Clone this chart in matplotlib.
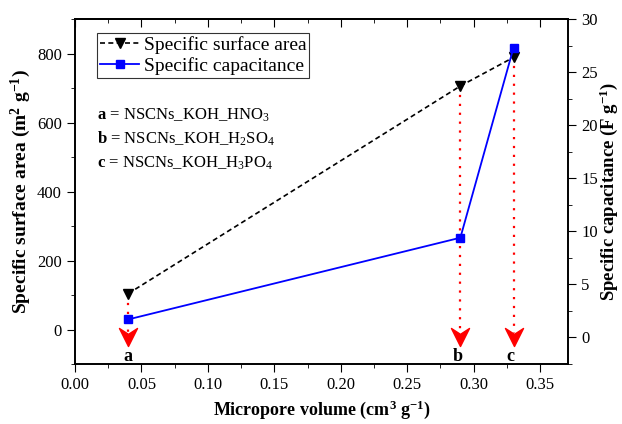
import matplotlib
matplotlib.use('Agg')
import matplotlib.pyplot as plt
import numpy as np
from matplotlib.path import Path
from matplotlib.ticker import MultipleLocator, FormatStrFormatter, NullFormatter

plt.rcParams['font.family'] = ['Liberation Serif', 'DejaVu Serif']
plt.rcParams['mathtext.fontset'] = 'custom'
plt.rcParams['mathtext.rm'] = 'Liberation Serif'
plt.rcParams['mathtext.it'] = 'Liberation Serif:italic'
plt.rcParams['mathtext.bf'] = 'Liberation Serif:bold'

# Data
micropore = [0.04, 0.29, 0.33]
surface_area = [104, 706, 789]
capacitance = [1.7, 9.4, 27.3]
sample_labels = ['a', 'b', 'c']
sample_names = ['NSCNs_KOH_HNO$_3$', 'NSCNs_KOH_H$_2$SO$_4$', 'NSCNs_KOH_H$_3$PO$_4$']

fig = plt.figure(figsize=(6.22, 4.24), dpi=100)
ax = fig.add_axes([0.1206, 0.1415, 0.7926, 0.8135])
ax2 = ax.twinx()

l1, = ax.plot(micropore, surface_area, color='black', linestyle=(0, (3, 2)), linewidth=1.2,
              marker='v', markersize=7, markerfacecolor='black', zorder=3)
l2, = ax2.plot(micropore, capacitance, color='#0000ff', linewidth=1.3,
               marker='s', markersize=6, markerfacecolor='#0000ff', markeredgecolor='#0000ff', zorder=3)

# chevron arrow head marker
chev = Path([(-1, 1), (0, -1), (1, 1), (0, 0.35), (-1, 1)],
            [Path.MOVETO, Path.LINETO, Path.LINETO, Path.LINETO, Path.CLOSEPOLY])

for x, y, lab in zip(micropore, surface_area, sample_labels):
    ax.plot([x, x], [y, -10], color='red', linestyle=(0, (1, 3)), linewidth=1.6, zorder=2)
    ax.plot([x], [-22], marker=chev, markersize=13, color='red', linestyle='none', zorder=2)
    ax.text(x - 0.002 if lab != 'a' else x, -78, lab, ha='center', va='center',
            fontsize=13, fontweight='bold')

ax.set_xlim(0, 0.371)
ax.set_ylim(-100, 900)
ax2.set_ylim(-2.5, 30)

ax.xaxis.set_major_locator(MultipleLocator(0.05))
ax.xaxis.set_minor_locator(MultipleLocator(0.025))
ax.xaxis.set_major_formatter(FormatStrFormatter('%.2f'))
ax.yaxis.set_major_locator(MultipleLocator(200))
ax.yaxis.set_minor_locator(MultipleLocator(100))
ax2.yaxis.set_major_locator(MultipleLocator(5))
ax2.yaxis.set_minor_locator(MultipleLocator(2.5))

ax.tick_params(axis='both', which='major', length=6, labelsize=12)
ax.tick_params(axis='both', which='minor', length=3)
ax2.tick_params(axis='y', which='major', length=6, labelsize=12)
ax2.tick_params(axis='y', which='minor', length=3)

# top axis: ticks pointing inward, no labels
top = ax.secondary_xaxis('top')
top.xaxis.set_major_locator(MultipleLocator(0.05))
top.xaxis.set_minor_locator(MultipleLocator(0.025))
top.xaxis.set_major_formatter(NullFormatter())
top.tick_params(which='major', direction='in', length=6)
top.tick_params(which='minor', direction='in', length=3)
top.spines['top'].set_linewidth(1.2)

for a in (ax, ax2):
    for s in a.spines.values():
        s.set_linewidth(1.2)

ax.set_xlabel('Micropore volume (cm$^{\\mathbf{3}}$ g$^{\\mathbf{-1}}$)', fontsize=13, fontweight='bold', labelpad=4)
ax.set_ylabel('Specific surface area (m$^{\\mathbf{2}}$ g$^{\\mathbf{-1}}$)', fontsize=14, fontweight='bold', labelpad=3)
ax2.set_ylabel('Specific capacitance (F g$^{\\mathbf{-1}}$)', fontsize=13.5, fontweight='bold', labelpad=0)

leg = ax.legend([l1, l2], ['Specific surface area', 'Specific capacitance'], loc='upper left',
                bbox_to_anchor=(0.045, 0.959), fontsize=14, frameon=True, fancybox=False,
                edgecolor='black', handlelength=2.0, borderpad=0.15, labelspacing=0.15,
                handletextpad=0.25, borderaxespad=0)
leg.get_frame().set_linewidth(0.8)

for i, (lab, name) in enumerate(zip(sample_labels, sample_names)):
    ax.text(0.045, 0.722 - i * 0.07, '$\\mathbf{' + lab + '}$ = ' + name, transform=ax.transAxes,
            fontsize=12, ha='left', va='center')

fig.savefig('out.png', dpi=100)
